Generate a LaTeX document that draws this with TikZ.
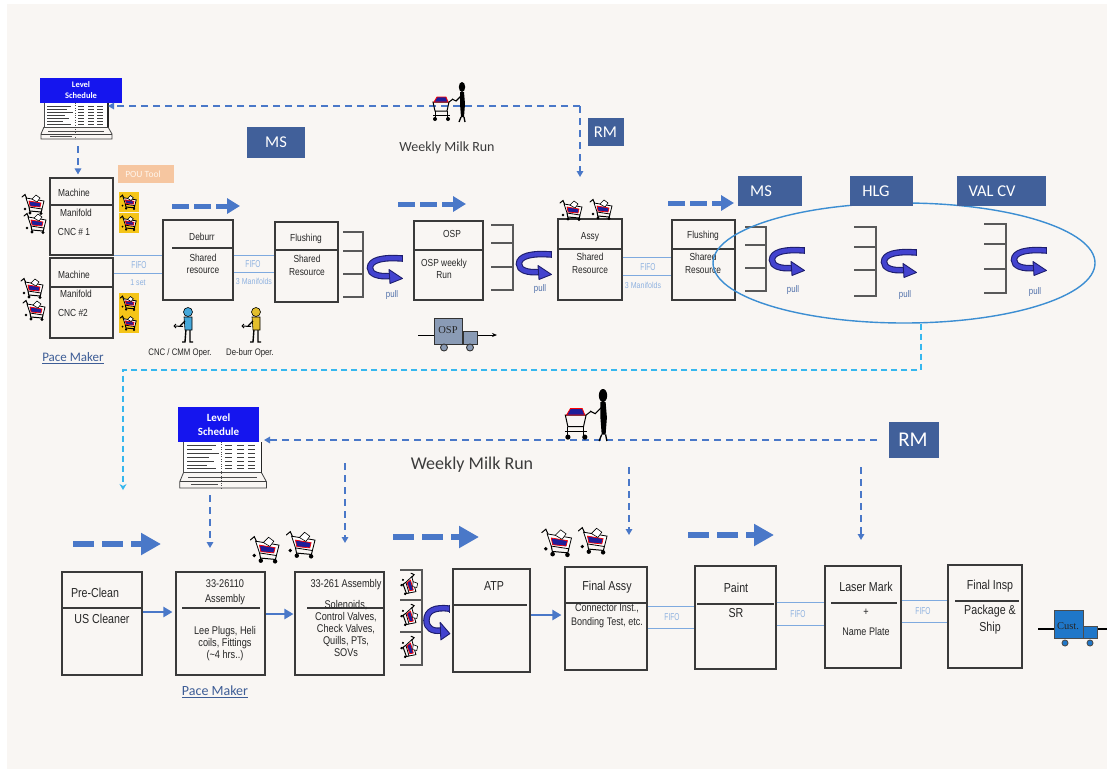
\documentclass[tikz,border=0pt]{standalone}
\usepackage{fontspec}
\setmainfont{Liberation Sans}[FakeStretch=0.82]
\newfontfamily\calfont{Carlito}
\newfontfamily\narrowfont{Liberation Sans}[FakeStretch=0.66]
\newfontfamily\truckfont{Liberation Serif}
\usetikzlibrary{arrows.meta,shapes.geometric}

\definecolor{paper}{HTML}{F9F6F3}
\definecolor{boxline}{HTML}{3A3A3A}
\definecolor{textgray}{HTML}{262626}
\definecolor{flowblue}{HTML}{4A78C8}
\definecolor{fifoblue}{HTML}{7FAADF}
\definecolor{fifotext}{HTML}{8FB2E0}
\definecolor{tagblue}{HTML}{41609A}
\definecolor{ringblue}{HTML}{3C8ED2}
\definecolor{cyanflow}{HTML}{36B7EE}
\definecolor{schedblue}{HTML}{1515EE}
\definecolor{pullfill}{HTML}{4343CF}
\definecolor{pulledge}{HTML}{1E1E6E}
\definecolor{pulltext}{HTML}{5070AA}
\definecolor{loadblue}{HTML}{1E1E9A}
\definecolor{pouorange}{HTML}{F6C6A0}
\definecolor{truckgray}{HTML}{8A9BB5}
\definecolor{custblue}{HTML}{1F77C9}
\definecolor{opblue}{HTML}{45A8DA}
\definecolor{opyellow}{HTML}{E2BE2C}
\definecolor{cartyellow}{HTML}{F5C518}
\definecolor{pacetext}{HTML}{3E5D96}

% supermarket bracket: x1 x2 y1 y2 y3 y4
\newcommand{\invq}[6]{%
  \draw[qline] (#1,#3) -- (#2,#3) -- (#2,#6) -- (#1,#6);
  \draw[qline] (#1,#4) -- (#2,#4) (#1,#5) -- (#2,#5);}

\tikzset{
  proc/.style={draw=boxline, line width=1.1pt, inner sep=0pt},
  divider/.style={draw=boxline, line width=1.1pt},
  txt/.style={inner sep=0pt, text=textgray, align=center},
  ftop/.style={font=\fontsize{10.2}{12}\selectfont},
  fbot/.style={font=\fontsize{13}{17}\selectfont},
  fbody/.style={font=\fontsize{11.2}{12}\selectfont},
  tagbox/.style={fill=tagblue, inner sep=0pt},
  tagtxt/.style={inner sep=0pt, text=white, font=\calfont\fontsize{16.5}{18}\selectfont},
  sched/.style={fill=schedblue, inner sep=0pt, text=white, align=center},
  fifo/.style={draw=fifoblue, line width=1pt},
  fifolbl/.style={inner sep=0pt, text=fifotext, font=\narrowfont\fontsize{10}{10}\selectfont},
  smalllbl/.style={inner sep=0pt, text=fifotext, font=\fontsize{8.6}{9}\selectfont},
  pulllbl/.style={inner sep=0pt, text=pulltext, font=\fontsize{9.6}{10}\selectfont},
  operlbl/.style={inner sep=0pt, text=textgray, font=\fontsize{9.5}{10}\selectfont},
  pace/.style={inner sep=0pt, text=pacetext},
  milklbl/.style={inner sep=0pt, text=textgray!90},
  milk/.style={draw=flowblue, line width=1.8pt, dash pattern=on 7pt off 5pt, -{Triangle[length=6pt,width=6.5pt]}},
  feed/.style={draw=cyanflow, line width=1.6pt, dash pattern=on 6pt off 4pt, -{Stealth[length=6pt,width=7pt]}},
  pushs/.style={draw=flowblue, line width=5pt, dash pattern=on 17pt off 5pt, -{Triangle[length=13pt,width=15pt]}},
  pushl/.style={draw=flowblue, line width=6pt, dash pattern=on 21pt off 8pt, -{Triangle[length=20pt,width=21pt]}},
  flow/.style={draw=flowblue, line width=2.2pt, -{Triangle[length=9pt,width=10pt]}},
  qline/.style={draw=black!65, line width=1.1pt},
  cart/.pic={
    \draw[black, line width=1pt, line cap=round] (-12,-7) -- (-9,-9.5) -- (-7,-5);
    \filldraw[fill=white, draw=black, line width=0.8pt] (-8,-6) -- (10,-3) -- (8,5) -- (-5,3) -- cycle;
    \filldraw[fill=loadblue, draw=red, line width=0.7pt] (-5,-3) -- (7,-1) -- (6,3) -- (-4,2) -- cycle;
    \draw[black, line width=0.6pt, fill=white] (-2,-5) -- (2,-9) -- (6,-6) -- (3,-2) -- cycle;
    \draw[black, line width=1pt] (-5,3) -- (-4,8) (8,5) -- (7,9) (-4,7) -- (7,8);
    \fill[black] (-4,9) circle (1.7) (7,9.5) circle (1.7) (-9,5) circle (1.4);
  },
  pull/.pic={
    \draw[pulledge, line width=6.5pt] (34,4.5) .. controls (14,3) and (2,6) .. (2,14) .. controls (2,20) and (10,23) .. (22,22);
    \draw[pullfill, line width=4.3pt] (34,4.5) .. controls (14,3) and (2,6) .. (2,14) .. controls (2,20) and (10,23) .. (22,22);
    \draw[pulledge, line width=0.8pt] (34,1.3) -- (34,7.7);
    \filldraw[fill=pullfill, draw=pulledge, line width=0.9pt, line join=round] (21,15.5) -- (34.5,24.5) -- (22,29.5) -- cycle;
  },
  milkrun/.pic={
    % cart pushed by the driver
    \draw[black, line width=1pt] (-29,-20) -- (-13,-20) -- (-15,-11) -- (-27,-11) -- cycle;
    \filldraw[fill=loadblue, draw=red, line width=0.8pt] (-28,-20) -- (-25,-25) -- (-16,-25) -- (-14,-20) -- cycle;
    \draw[black, line width=1pt] (-27,-11) -- (-27,-4) (-15,-11) -- (-15,-4) (-29,-7) -- (-12,-7);
    \draw[black, line width=1pt] (-13,-20) -- (-9,-23);
    \fill[black] (-27,-3) circle (2) (-14,-3) circle (2);
    % driver
    \fill[black] (0,-35) ellipse (3.2 and 5);
    \fill[black] (-2,-30) -- (2,-30) -- (3,-18) -- (2,-5) -- (-1,-5) -- (-2,-18) -- cycle;
    \draw[black, line width=1.3pt] (-1,-5) -- (-3,0) (2,-5) -- (3,0);
    \draw[black, line width=1.1pt] (-1,-26) -- (-6,-21) -- (-10,-23);
  },
  pics/oper/.style={code={
    \draw[black, line width=1.4pt] (-2,-13) -- (-3,0) -- (-6,0) (2,-13) -- (2,0) -- (5,0);
    \filldraw[fill=#1, draw=black, line width=0.6pt] (-4,-25) -- (4,-25) -- (4,-12) -- (-3,-12) -- cycle;
    \filldraw[fill=#1, draw=black, line width=0.6pt] (0,-30) circle (4.5);
    \draw[black, line width=1.2pt] (-3,-21) -- (-8,-16);
    \draw[black, line width=1pt] (-14,-16) -- (-5,-15.5);
    \draw[black, line width=0.8pt] (-14,-16) -- (-12,-18) (-14,-16) -- (-12,-14);
  }},
  schedsheet/.pic={
    \draw[black!70, line width=0.8pt, fill=white] (2,0) -- (2,24) -- (66,24) -- (66,0);
    \foreach \yy/\lw in {3/24, 6/20, 9/26, 12/18, 15/22, 18/16, 21/24} {
      \draw[black!75, line width=1pt] (5,\yy) -- ++(\lw,0);
      \draw[black!75, line width=1pt] (36,\yy) -- ++(6,0) (46,\yy) -- ++(6,0) (55,\yy) -- ++(6,0);
    }
    \draw[black!85, line width=1.6pt] (66,0) -- (66,24);
    \draw[black!75, line width=0.8pt] (2,24) -- (-1,31) -- (-1,36) -- (70,36) -- (70,31) -- (66,24);
    \draw[black!75, line width=0.8pt] (-1,31) -- (70,31);
    \draw[black!70, line width=1pt] (6,28) -- (62,28) (8,33.5) -- (30,33.5);
    \draw[black!70, dotted] (33,0) -- (33,36);
  },
}

\begin{document}
\begin{tikzpicture}[x=1pt,y=-1pt]
\useasboundingbox (0,0) rectangle (1107,769);
\fill[white] (0,0) rectangle (1107,769);
\fill[paper] (7,4) rectangle (1107,769);

% ---------------- upper value stream ----------------
% level schedule and weekly milk run
\node[sched, minimum width=82pt, minimum height=25pt, font=\calfont\bfseries\fontsize{8.5}{11}\selectfont] (ls1) at (81,90.5) {Level\\Schedule};
\pic at (42,103) {schedsheet};
\coordinate (mr1) at (580,106);
\coordinate (ls1in) at (108,106);
\coordinate (assyfeed) at (580,177);
\coordinate (ls1foot) at (78,146);
\draw[milk] (mr1) -- (ls1in);
\draw[milk] (mr1) -- (assyfeed);
\pic at (462,122) {milkrun};
\node[milklbl, font=\calfont\fontsize{14}{16}\selectfont] (mrun1) at (447,148) {Weekly Milk Run};
\node[tagbox, minimum width=58pt, minimum height=31pt] (ms1) at (276,142.5) {};
\node[tagtxt] (ms1t) at (276,142.5) {MS};
\node[tagbox, minimum width=36pt, minimum height=28pt] (rm1) at (605.5,132) {};
\node[tagtxt] (rm1t) at (605.5,132) {RM};
\node[fill=pouorange, inner sep=0pt, minimum width=56pt, minimum height=18pt] (pou) at (146,174) {};
\node[inner sep=0pt, text=white!92!orange, font=\calfont\fontsize{9.5}{10}\selectfont] (pout) at (143,174) {POU Tool};

% process boxes
\node[proc, minimum width=63pt, minimum height=77pt] (m1) at (81.5,216.5) {};
\draw[divider] (m1.west |- 0,205) -- (m1.east |- 0,205);
\node[proc, minimum width=63pt, minimum height=80pt] (m2) at (81.5,298) {};
\draw[divider] (m2.west |- 0,287) -- (m2.east |- 0,287);
\node[proc, minimum width=70pt, minimum height=80pt] (deb) at (198,260) {};
\draw[divider] (172,248) -- (deb.east |- 0,248);
\node[proc, minimum width=63pt, minimum height=80pt] (fl1) at (306.5,262) {};
\draw[divider] (fl1.west |- 0,250) -- (fl1.east |- 0,250);
\node[proc, minimum width=69pt, minimum height=79pt] (osp) at (448.5,260.5) {};
\draw[divider] (osp.west |- 0,250) -- (osp.east |- 0,250);
\node[proc, minimum width=64pt, minimum height=81pt] (assy) at (590,259.5) {};
\draw[divider] (assy.west |- 0,249) -- (assy.east |- 0,249);
\node[proc, minimum width=63pt, minimum height=80pt] (fl2) at (703.5,260) {};
\draw[divider] (fl2.west |- 0,249) -- (fl2.east |- 0,249);

\draw[milk, shorten >=3pt] (ls1foot) -- (m1.north -| ls1foot);

% box texts
\node[txt, ftop] (m1a) at (74,193) {Machine};
\node[txt, ftop] (m1b) at (76,213) {Manifold};
\node[txt, ftop] (m1c) at (74,232) {CNC \# 1};
\node[txt, ftop] (m2a) at (74,275) {Machine};
\node[txt, ftop] (m2b) at (76,294) {Manifold};
\node[txt, ftop] (m2c) at (73,313) {CNC \#2};
\node[txt, ftop] (deba) at (202,237) {Deburr};
\node[txt, ftop] (debb) at (203,263.5) {Shared\\resource};
\node[txt, ftop] (fl1a) at (306,239) {Flushing};
\node[txt, font=\fontsize{10.2}{13}\selectfont] (fl1b) at (307,265) {Shared\\Resource};
\node[txt, ftop] (ospa) at (452,234) {OSP};
\node[txt, ftop] (ospb) at (444,268.5) {OSP weekly\\Run};
\node[txt, ftop] (assya) at (590,237) {Assy};
\node[txt, font=\fontsize{10.2}{13}\selectfont] (assyb) at (590,263) {Shared\\Resource};
\node[txt, ftop] (fl2a) at (703,236) {Flushing};
\node[txt, font=\fontsize{10.2}{13}\selectfont] (fl2b) at (703,263) {Shared\\Resource};

% FIFO lanes
\draw[fifo] (m1.east |- 0,255) -- (deb.west |- 0,255);
\draw[fifo] (m2.east |- 0,273) -- (deb.west |- 0,273);
\node[fifolbl] (ff1) at (139,265) {FIFO};
\node[smalllbl] (ff1s) at (138,283) {1 set};
\draw[fifo] (deb.east |- 0,255) -- (fl1.west |- 0,255);
\draw[fifo] (deb.east |- 0,272) -- (fl1.west |- 0,272);
\node[fifolbl] (ff2) at (253,264) {FIFO};
\node[smalllbl] (ff2s) at (254,281) {3 Manifolds};
\draw[fifo] (assy.east |- 0,257) -- (fl2.west |- 0,257);
\draw[fifo] (assy.east |- 0,275) -- (fl2.west |- 0,275);
\node[fifolbl] (ff3) at (648,267) {FIFO};
\node[smalllbl] (ff3s) at (643,285) {3 Manifolds};

% push arrows
\draw[pushs] (172,206) -- (240,206);
\draw[pushs] (398,204) -- (466,204);
\draw[pushs] (668,203) -- (734,203);

% supermarkets and pulls
\invq{343}{363}{232}{251}{274}{297}
\invq{491}{513}{225}{243}{267}{290}
\invq{745}{766}{227}{245}{268}{291}
\invq{854}{876}{227}{247}{270}{296}
\invq{984}{1006}{224}{244}{269}{293}
\pic at (368,254) {pull};
\pic at (517,250) {pull};
\pic at (770,246) {pull};
\pic at (882,248) {pull};
\pic at (1012,246) {pull};
\node[pulllbl] (pl1) at (392,295) {pull};
\node[pulllbl] (pl2) at (540,289) {pull};
\node[pulllbl] (pl3) at (793,290) {pull};
\node[pulllbl] (pl4) at (905,295) {pull};
\node[pulllbl] (pl5) at (1035,292) {pull};

% downstream cells grouped
\node[draw=ringblue, line width=1.4pt, ellipse, minimum width=382pt, minimum height=120pt, inner sep=0pt] (grp) at (904,263) {};
\node[tagbox, minimum width=64pt, minimum height=30pt] (ms2) at (770,191) {};
\node[tagtxt] (ms2t) at (761,191) {MS};
\node[tagbox, minimum width=63pt, minimum height=30pt] (hlg) at (881.5,191) {};
\node[tagtxt] (hlgt) at (876,191) {HLG};
\node[tagbox, minimum width=89pt, minimum height=30pt] (val) at (1001.5,191) {};
\node[tagtxt] (valt) at (992,191) {VAL CV};

% kanban carts
\pic at (34,204) {cart};
\pic at (36,223) {cart};
\pic at (33,288) {cart};
\pic at (35,310) {cart};
\foreach \cy in {192,213,293,313} {
  \fill[cartyellow] (119,\cy) rectangle (139,\cy+19.5);
  \pic[scale=0.72] at (129,\cy+10) {cart};
}
\pic at (572,210) {cart};
\pic at (602,209) {cart};

% operators
\pic at (188,342) {oper=opblue};
\pic at (256,342) {oper=opyellow};
\node[operlbl] (op1) at (180,353) {CNC / CMM Oper.};
\node[operlbl] (op2) at (250,353) {De-burr Oper.};
\node[pace, font=\calfont\fontsize{13}{14}\selectfont] (pm1) at (73,358) {\underline{Pace Maker}};

% OSP shipment
\draw[black, line width=0.9pt, -{Stealth[length=5pt,width=4pt]}] (418,335) -- (497,335);
\filldraw[fill=truckgray, draw=black!80, line width=0.9pt] (434,318) rectangle (462,344);
\filldraw[fill=truckgray, draw=black!80, line width=0.9pt] (463,331) rectangle (477,344);
\filldraw[fill=truckgray, draw=black!80, line width=0.9pt] (444,347.5) circle (3.5) (470,347.5) circle (3.5);
\node[inner sep=0pt, text=textgray, font=\truckfont\fontsize{10.5}{11}\selectfont] (osptr) at (448,330) {OSP};

% link to lower stream
\coordinate (feedend) at (123,490);
\draw[feed] (grp.south -| 921,0) -- (921,370) -- (123,370) -- (feedend);

% ---------------- lower value stream ----------------
\node[sched, minimum width=81pt, minimum height=35pt, font=\calfont\bfseries\fontsize{11}{13.5}\selectfont] (ls2) at (218.5,424.5) {Level\\Schedule};
\pic[xscale=1.22, yscale=1.28] at (181,442) {schedsheet};
\node[tagbox, minimum width=50pt, minimum height=36pt] (rm2) at (914,440) {};
\node[tagtxt, font=\calfont\fontsize{21}{22}\selectfont] (rm2t) at (913,440) {RM};
\coordinate (rm2w) at (877,440);
\coordinate (ls2in) at (264,440);
\draw[milk] (rm2w) -- (ls2in);
\pic[scale=1.3] at (603,441) {milkrun};
\node[milklbl, font=\calfont\fontsize{18}{20}\selectfont] (mrun2) at (472,465) {Weekly Milk Run};
\coordinate (d1a) at (345,463); \coordinate (d1b) at (345,543);
\coordinate (d2a) at (629,467); \coordinate (d2b) at (629,535);
\coordinate (d3a) at (861,467); \coordinate (d3b) at (861,540);
\coordinate (d4a) at (210,495); \coordinate (d4b) at (210,548);
\draw[milk] (d1a) -- (d1b);
\draw[milk] (d2a) -- (d2b);
\draw[milk] (d3a) -- (d3b);
\draw[milk] (d4a) -- (d4b);

\draw[pushl] (73,544) -- (161,544);
\draw[pushl] (393,537) -- (479,537);
\draw[pushl] (688,535) -- (774,535);

% process boxes
\node[proc, minimum width=80pt, minimum height=103pt] (pre) at (102,623.5) {};
\draw[divider] (pre.west |- 0,608) -- (pre.east |- 0,608);
\node[proc, minimum width=89pt, minimum height=103pt] (a1) at (220.5,623.5) {};
\draw[divider] (182,608) -- (260,608);
\node[proc, minimum width=89pt, minimum height=103pt] (a2) at (339.5,623.5) {};
\draw[divider] (307,608) -- (a2.east |- 0,608);
\node[proc, minimum width=77pt, minimum height=103pt] (atp) at (491.5,620.5) {};
\draw[divider] (atp.west |- 0,605) -- (527,605);
\node[proc, minimum width=82pt, minimum height=103pt] (fa) at (606,618.5) {};
\draw[divider] (fa.west |- 0,603) -- (fa.east |- 0,603);
\node[proc, minimum width=81pt, minimum height=103pt] (paint) at (735.5,617.5) {};
\draw[divider] (697,604) -- (774,604);
\node[proc, minimum width=76pt, minimum height=102pt] (laser) at (863,617) {};
\draw[divider] (831,603) -- (897,603);
\node[proc, minimum width=74pt, minimum height=103pt] (insp) at (985,616.5) {};
\draw[divider] (955,601) -- (1019,601);

\node[txt, fbot] (prea) at (95,593) {Pre-Clean};
\node[txt, fbot] (preb) at (102,619) {US Cleaner};
\node[txt, font=\fontsize{11.2}{15}\selectfont] (a1a) at (225,592) {33-26110\\Assembly};
\node[txt, fbody] (a1b) at (225,644) {Lee Plugs, Heli\\coils, Fittings\\(\textasciitilde4 hrs..)};
\node[txt, fbody] (a2a) at (346,585) {33-261 Assembly};
\node[txt, fbody] (a2b) at (346,628) {Solenoids,\\Control Valves,\\Check Valves,\\Quills, PTs,\\SOVs};
\node[txt, fbot] (atpa) at (494,586) {ATP};
\node[txt, fbot] (faa) at (607,587) {Final Assy};
\node[txt, font=\fontsize{11}{13.5}\selectfont] (fab) at (607,616) {Connector Inst.,\\Bonding Test, etc.};
\node[txt, fbot] (pa) at (736,588) {Paint};
\node[txt, fbot] (pb) at (736,613) {SR};
\node[txt, fbot] (la) at (866,587) {Laser Mark};
\node[txt, fbody] (lb) at (866,612) {+};
\node[txt, font=\fontsize{11}{12}\selectfont] (lc) at (866,632) {Name Plate};
\node[txt, fbot] (ia) at (990,586) {Final Insp};
\node[txt, fbot] (ib) at (990,619.5) {Package \&\\Ship};
\node[pace, font=\calfont\fontsize{14}{15}\selectfont] (pm2) at (215,692) {\underline{Pace Maker}};

% material flow
\draw[flow, shorten >=3pt] (pre.east |- 0,612) -- (a1.west |- 0,612);
\draw[flow, shorten >=1pt] (a1.east |- 0,614) -- (a2.west |- 0,614);
\draw[flow, shorten >=3pt] (atp.east |- 0,615) -- (fa.west |- 0,615);
\draw[fifo] (fa.east |- 0,606) -- (paint.west |- 0,606);
\draw[fifo] (fa.east |- 0,628) -- (paint.west |- 0,628);
\node[fifolbl] (bf1) at (672,617) {FIFO};
\draw[fifo] (paint.east |- 0,602) -- (laser.west |- 0,602);
\draw[fifo] (paint.east |- 0,625) -- (laser.west |- 0,625);
\node[fifolbl] (bf2) at (798,614) {FIFO};
\draw[fifo] (laser.east |- 0,600) -- (insp.west |- 0,600);
\draw[fifo] (laser.east |- 0,622) -- (insp.west |- 0,622);
\node[fifolbl] (bf3) at (923,611) {FIFO};

% carts waiting
\pic[scale=1.3] at (266,549) {cart};
\pic[scale=1.3] at (302,544) {cart};
\pic[scale=1.35] at (558,542) {cart};
\pic[scale=1.3] at (594,540) {cart};
\draw[qline] (400,570) -- (422,570) -- (422,665) -- (400,665);
\draw[qline] (400,600) -- (422,600) (400,632) -- (422,632);
\foreach \cy in {585,616,648} {\pic[scale=0.85, rotate=-65] at (410,\cy) {cart};}
\pic[xscale=0.72, yscale=1.25] at (425,603) {pull};

% customer shipment
\draw[black, line width=1.2pt] (1038,629) -- (1107,629);
\filldraw[fill=custblue, draw=black!70, line width=0.9pt] (1054,610) rectangle (1083,638);
\filldraw[fill=custblue, draw=black!70, line width=0.9pt] (1083,626) rectangle (1097,638);
\filldraw[fill=custblue, draw=black!70, line width=0.9pt] (1065,643) circle (3) (1090,643) circle (3);
\node[inner sep=0pt, text=textgray, font=\truckfont\fontsize{10.5}{11}\selectfont] (cust) at (1068,626) {Cust.};
\end{tikzpicture}
\end{document}
